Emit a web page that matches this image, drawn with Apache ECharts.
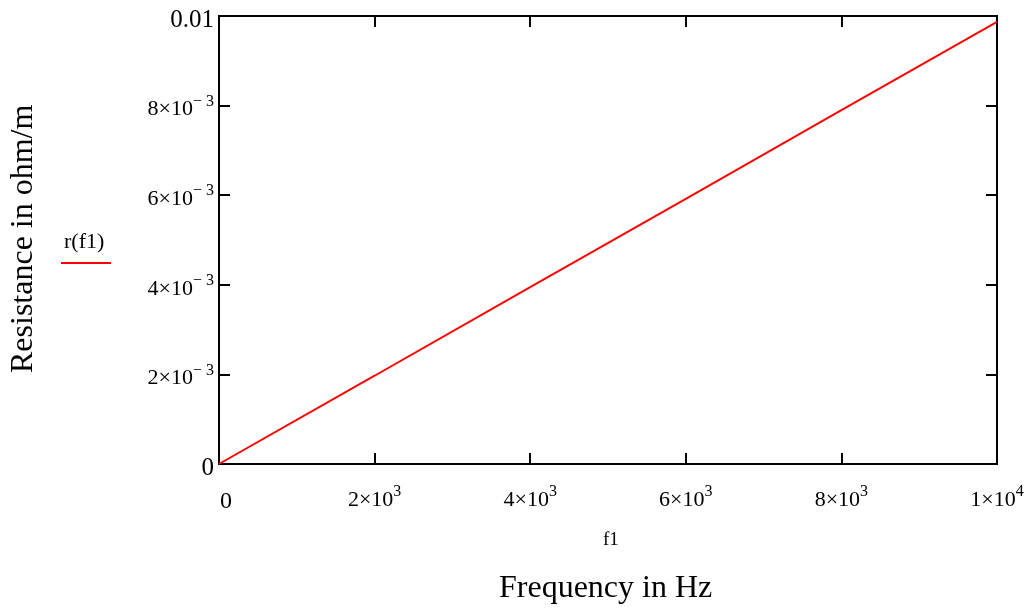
<!DOCTYPE html>
<html><head><meta charset="utf-8">
<script src="https://cdn.jsdelivr.net/npm/echarts@6/dist/echarts.min.js"></script>
<style>html,body{margin:0;padding:0;background:#fff}#c{width:1034px;height:612px}</style>
</head><body><div id="c"></div>
<script>
const freqs = [0, 2000, 4000, 6000, 8000, 10000];
const resist = [0, 0.00197, 0.00395, 0.00592, 0.0079, 0.00987];
const xTickLabels = {0:'{z|0}', 2000:'{m|2×10}{s|3}', 4000:'{m|4×10}{s|3}', 6000:'{m|6×10}{s|3}', 8000:'{m|8×10}{s|3}', 10000:'{m|1×10}{s|4}'};
const yTickLabels = ['{n|0}', '{m|2×10}{s|− 3}', '{m|4×10}{s|− 3}', '{m|6×10}{s|− 3}', '{m|8×10}{s|− 3}', '{n|0.01}'];
const seriesName = 'r(f1)';
const xName = 'Frequency in Hz', xVar = 'f1', yName = 'Resistance in ohm/m';

const FONT = '"Liberation Serif", "Times New Roman", serif';
const rich = {
  m: {fontFamily: FONT, fontSize: 22, color: '#000'},
  n: {fontFamily: FONT, fontSize: 25, color: '#000'},
  z: {fontFamily: FONT, fontSize: 24, color: '#000', padding: [6, 0, 0, 14]},
  s: {fontFamily: FONT, fontSize: 16, color: '#000', padding: [0, 0, 16, 0]}
};
const chart = echarts.init(document.getElementById('c'));
const axisLine = {show: true, onZero: false, lineStyle: {color: '#000', width: 2}};
const tick = {show: true, inside: true, length: 11, lineStyle: {color: '#000', width: 2}};
chart.setOption({
  animation: false,
  grid: {left: 219, top: 16, right: 37, bottom: 148, containLabel: false},
  xAxis: [{
    type: 'value', min: 0, max: 10000, interval: 2000, position: 'bottom',
    axisLine, axisTick: tick, splitLine: {show: false},
    axisLabel: {margin: 20, fontFamily: FONT, fontSize: 22, color: '#000', rich,
      formatter: v => xTickLabels[v] !== undefined ? xTickLabels[v] : ''}
  }, {
    type: 'value', min: 0, max: 10000, interval: 2000, position: 'top',
    axisLine, axisTick: tick, splitLine: {show: false}, axisLabel: {show: false}
  }],
  yAxis: [{
    type: 'value', min: 0, max: 0.01, interval: 0.002, position: 'left',
    axisLine, axisTick: tick, splitLine: {show: false},
    axisLabel: {margin: 5, padding: [8, 0, 0, 0], fontFamily: FONT, fontSize: 22, color: '#000', rich,
      formatter: v => yTickLabels[Math.round(v / 0.002)] || ''}
  }, {
    type: 'value', min: 0, max: 0.01, interval: 0.002, position: 'right',
    axisLine, axisTick: tick, splitLine: {show: false}, axisLabel: {show: false}
  }],
  series: [{
    name: seriesName, type: 'line', data: freqs.map((f, i) => [f, resist[i]]),
    showSymbol: false, lineStyle: {color: '#ff0000', width: 2}, itemStyle: {color: '#ff0000'}
  }],
  graphic: [
    {type: 'text', left: 603, top: 531, style: {text: xVar, font: '19px ' + FONT, fill: '#000'}},
    {type: 'text', left: 499, top: 573, style: {text: xName, font: '32px ' + FONT, fill: '#000'}},
    {type: 'text', rotation: Math.PI / 2, x: 8, y: 373, style: {text: yName, font: '32px ' + FONT, fill: '#000', align: 'left', verticalAlign: 'top'}},
    {type: 'text', left: 64, top: 231, style: {text: seriesName, font: '22px ' + FONT, fill: '#000'}},
    {type: 'line', shape: {x1: 61, y1: 263, x2: 111, y2: 263}, style: {stroke: '#ff0000', lineWidth: 2}}
  ]
});
</script></body></html>
